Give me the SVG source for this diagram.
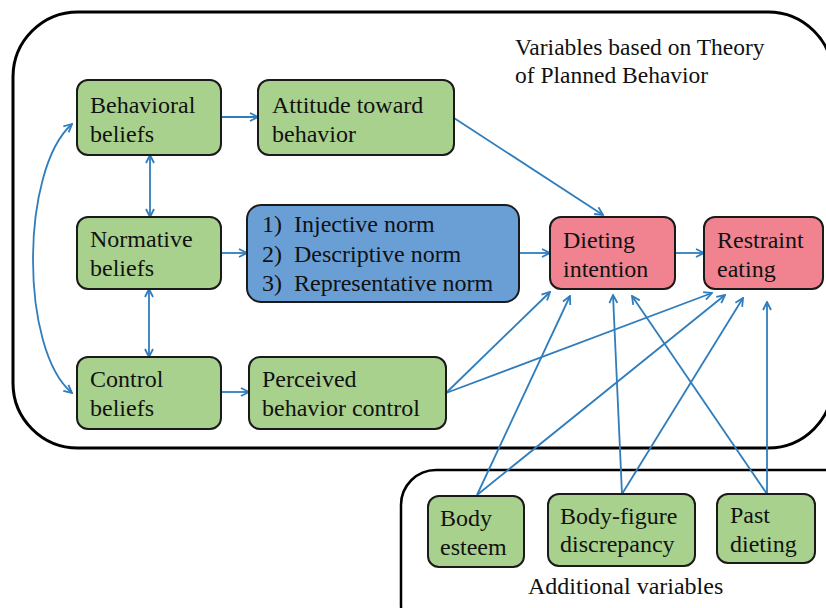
<svg xmlns="http://www.w3.org/2000/svg" width="826" height="608" viewBox="0 0 826 608">
<defs>
<style>
.g{fill:#a9d18e;stroke:#1a1a1a;stroke-width:2}
.p{fill:#f0838f;stroke:#1a1a1a;stroke-width:2}
.b{fill:#6a9fd6;stroke:#1a1a1a;stroke-width:2}
.frame{fill:none;stroke:#000;stroke-width:3}
</style>
<marker id="ah" viewBox="0 0 10 10" refX="9" refY="5" markerWidth="10" markerHeight="10" markerUnits="userSpaceOnUse" orient="auto-start-reverse">
<path d="M1,1 L9,5 L1,9" fill="none" stroke="#2f7dbd" stroke-width="1.8"/>
</marker>
</defs>
<rect width="826" height="608" fill="#fff"/>
<g id="frame-tpb">
<rect class="frame" x="13" y="12" width="820" height="436" rx="65" ry="65"/>
<text style="font-family:'Liberation Serif',serif;font-size:23.5px;fill:#111" x="515" y="55">Variables based on Theory</text>
<text style="font-family:'Liberation Serif',serif;font-size:23.5px;fill:#111" x="515" y="83">of Planned Behavior</text>
</g>
<g id="frame-additional">
<rect class="frame" x="401" y="470" width="460" height="170" rx="35" ry="35" style="stroke-width:2.5"/>
<text style="font-family:'Liberation Serif',serif;font-size:24px;fill:#111" x="528" y="594">Additional variables</text>
</g>
<g id="connectors" fill="none" stroke="#2f7dbd" stroke-width="1.8">
<line x1="221" y1="117" x2="258" y2="117" marker-end="url(#ah)"/>
<line x1="150" y1="155" x2="150" y2="217" marker-start="url(#ah)" marker-end="url(#ah)"/>
<line x1="221" y1="253" x2="247" y2="253" marker-end="url(#ah)"/>
<line x1="149" y1="289" x2="149" y2="357" marker-start="url(#ah)" marker-end="url(#ah)"/>
<line x1="221" y1="392" x2="249" y2="392" marker-end="url(#ah)"/>
<path d="M72,124 C20,170 20,350 72,393" marker-start="url(#ah)" marker-end="url(#ah)"/>
<line x1="454" y1="118" x2="603" y2="215" marker-end="url(#ah)"/>
<line x1="519" y1="253" x2="550" y2="253" marker-end="url(#ah)"/>
<line x1="675" y1="253" x2="704" y2="253" marker-end="url(#ah)"/>
<line x1="446" y1="393" x2="550" y2="292" marker-end="url(#ah)"/>
<line x1="446" y1="393" x2="712" y2="293" marker-end="url(#ah)"/>
<line x1="477" y1="495" x2="570" y2="296" marker-end="url(#ah)"/>
<line x1="477" y1="495" x2="725" y2="295" marker-end="url(#ah)"/>
<line x1="622" y1="494" x2="613" y2="295" marker-end="url(#ah)"/>
<line x1="622" y1="494" x2="743" y2="298" marker-end="url(#ah)"/>
<line x1="767" y1="494" x2="632" y2="296" marker-end="url(#ah)"/>
<line x1="767" y1="494" x2="767" y2="302" marker-end="url(#ah)"/>
</g>
<g id="behavioral-beliefs">
<rect class="g" x="77" y="80" width="144" height="75" rx="11"/>
<text style="font-family:'Liberation Serif',serif;font-size:24px;fill:#111" x="90" y="113">Behavioral</text>
<text style="font-family:'Liberation Serif',serif;font-size:24px;fill:#111" x="90" y="142">beliefs</text>
</g>
<g id="attitude">
<rect class="g" x="258" y="80" width="196" height="75" rx="11"/>
<text style="font-family:'Liberation Serif',serif;font-size:24px;fill:#111" x="272" y="113">Attitude toward</text>
<text style="font-family:'Liberation Serif',serif;font-size:24px;fill:#111" x="272" y="142">behavior</text>
</g>
<g id="normative-beliefs">
<rect class="g" x="77" y="217" width="144" height="72" rx="11"/>
<text style="font-family:'Liberation Serif',serif;font-size:24px;fill:#111" x="90" y="247">Normative</text>
<text style="font-family:'Liberation Serif',serif;font-size:24px;fill:#111" x="90" y="276">beliefs</text>
</g>
<g id="norms">
<rect class="b" x="247" y="205" width="272" height="97" rx="14"/>
<text style="font-family:'Liberation Serif',serif;font-size:24px;fill:#111" x="262" y="232">1)</text>
<text style="font-family:'Liberation Serif',serif;font-size:24px;fill:#111" x="294" y="232">Injective norm</text>
<text style="font-family:'Liberation Serif',serif;font-size:24px;fill:#111" x="262" y="262">2)</text>
<text style="font-family:'Liberation Serif',serif;font-size:24px;fill:#111" x="294" y="262">Descriptive norm</text>
<text style="font-family:'Liberation Serif',serif;font-size:24px;fill:#111" x="262" y="291">3)</text>
<text style="font-family:'Liberation Serif',serif;font-size:24px;fill:#111" x="294" y="291">Representative norm</text>
</g>
<g id="dieting-intention">
<rect class="p" x="550" y="217" width="125" height="72" rx="11"/>
<text style="font-family:'Liberation Serif',serif;font-size:24px;fill:#111" x="563" y="248">Dieting</text>
<text style="font-family:'Liberation Serif',serif;font-size:24px;fill:#111" x="563" y="277">intention</text>
</g>
<g id="restraint-eating">
<rect class="p" x="704" y="217" width="119" height="72" rx="11"/>
<text style="font-family:'Liberation Serif',serif;font-size:24px;fill:#111" x="717" y="248">Restraint</text>
<text style="font-family:'Liberation Serif',serif;font-size:24px;fill:#111" x="717" y="277">eating</text>
</g>
<g id="control-beliefs">
<rect class="g" x="77" y="357" width="144" height="72" rx="11"/>
<text style="font-family:'Liberation Serif',serif;font-size:24px;fill:#111" x="90" y="387">Control</text>
<text style="font-family:'Liberation Serif',serif;font-size:24px;fill:#111" x="90" y="416">beliefs</text>
</g>
<g id="perceived-control">
<rect class="g" x="249" y="357" width="197" height="72" rx="11"/>
<text style="font-family:'Liberation Serif',serif;font-size:24px;fill:#111" x="262" y="387">Perceived</text>
<text style="font-family:'Liberation Serif',serif;font-size:24px;fill:#111" x="262" y="416">behavior control</text>
</g>
<g id="body-esteem">
<rect class="g" x="428" y="496" width="96" height="71" rx="11"/>
<text style="font-family:'Liberation Serif',serif;font-size:24px;fill:#111" x="440" y="526">Body</text>
<text style="font-family:'Liberation Serif',serif;font-size:24px;fill:#111" x="440" y="555">esteem</text>
</g>
<g id="body-figure">
<rect class="g" x="548" y="494" width="147" height="72" rx="11"/>
<text style="font-family:'Liberation Serif',serif;font-size:24px;fill:#111" x="560" y="524">Body-figure</text>
<text style="font-family:'Liberation Serif',serif;font-size:24px;fill:#111" x="560" y="552">discrepancy</text>
</g>
<g id="past-dieting">
<rect class="g" x="717" y="494" width="98" height="69" rx="11"/>
<text style="font-family:'Liberation Serif',serif;font-size:24px;fill:#111" x="730" y="523">Past</text>
<text style="font-family:'Liberation Serif',serif;font-size:24px;fill:#111" x="730" y="552">dieting</text>
</g>
</svg>
